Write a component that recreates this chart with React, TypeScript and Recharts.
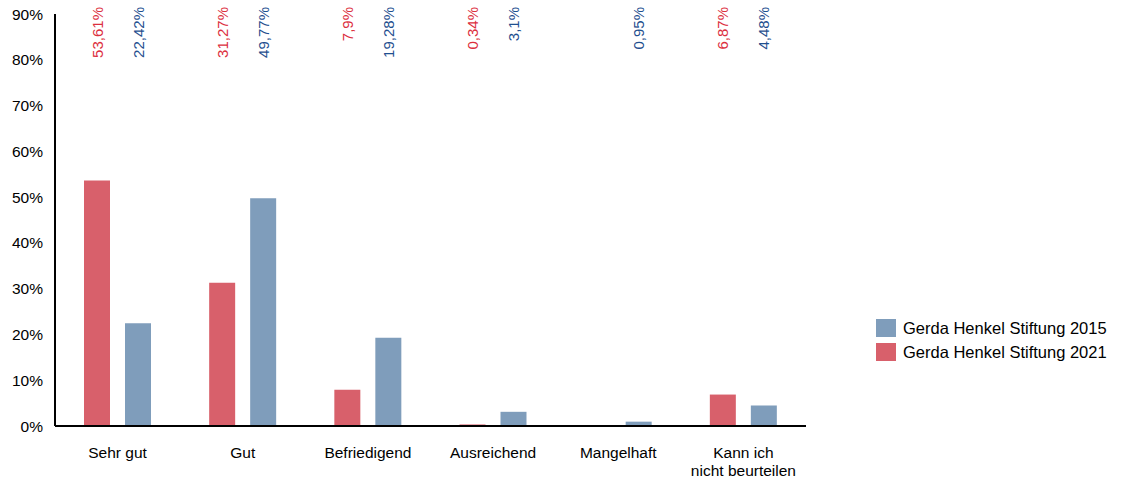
import React from "react";
import { BarChart, Bar, XAxis, YAxis, Legend, LabelList } from "recharts";

const categories = ["Sehr gut", "Gut", "Befriedigend", "Ausreichend", "Mangelhaft", "Kann ich\nnicht beurteilen"];
const values2021: (number | null)[] = [53.61, 31.27, 7.9, 0.34, null, 6.87];
const values2015: (number | null)[] = [22.42, 49.77, 19.28, 3.1, 0.95, 4.48];
const yTicks = [0, 10, 20, 30, 40, 50, 60, 70, 80, 90];

const data = categories.map((c, i) => ({ name: c, v2021: values2021[i], v2015: values2015[i] }));

const RED = "#d8606b";
const BLUE = "#7f9dbb";
const RED_TXT = "#dc2f3e";
const BLUE_TXT = "#1f4f8f";
const FONT = "'Liberation Sans', Arial, sans-serif";

const fmt = (v: number) => String(v).replace(".", ",") + "%";

const makeLabel = (color: string) => (props: any) => {
  const { x, width, value } = props;
  if (value === null || value === undefined) return null;
  const cx = Number(x) + Number(width) / 2;
  const y = 7;
  return (
    <text
      x={cx}
      y={y}
      transform={`rotate(-90, ${cx}, ${y})`}
      textAnchor="end"
      dominantBaseline="central"
      fill={color}
      fontSize={15}
      fontFamily={FONT}
    >
      {fmt(Number(value))}
    </text>
  );
};

const XTick = (props: any) => {
  const { x, y, payload } = props;
  const lines = String(payload.value).split("\n");
  return (
    <g>
      {lines.map((l, i) => (
        <text key={i} x={x} y={y + 24 + i * 18} textAnchor="middle" fill="#000" fontSize={15.5} fontFamily={FONT}>
          {l}
        </text>
      ))}
    </g>
  );
};

const LegendContent = () => {
  const items = [
    { label: "Gerda Henkel Stiftung 2015", color: BLUE },
    { label: "Gerda Henkel Stiftung 2021", color: RED },
  ];
  return (
    <div style={{ fontFamily: FONT, fontSize: 16.5, color: "#000" }}>
      {items.map((it) => (
        <div key={it.label} style={{ display: "flex", alignItems: "center", height: 24 }}>
          <div style={{ width: 20, height: 18, background: it.color, marginRight: 7 }} />
          <span style={{ whiteSpace: "nowrap" }}>{it.label}</span>
        </div>
      ))}
    </div>
  );
};

export default function App() {
  return (
    <div style={{ position: "absolute", left: 0, top: 0 }}>
      <BarChart
        width={1130}
        height={483}
        data={data}
        margin={{ top: 14, right: 324, bottom: 0, left: 0 }}
        barSize={26}
        barGap={15}
      >
        <XAxis
          dataKey="name"
          axisLine={{ stroke: "#000", strokeWidth: 2 }}
          tickLine={false}
          tick={<XTick />}
          interval={0}
          height={57}
        />
        <YAxis
          domain={[0, 90]}
          ticks={yTicks}
          interval={0}
          width={55}
          axisLine={{ stroke: "#000", strokeWidth: 2 }}
          tickLine={false}
          tickMargin={6}
          tickFormatter={(v: number) => `${v}%`}
          tick={{ fill: "#000", fontSize: 15.5, fontFamily: FONT }}
        />
        <Legend
          layout="horizontal"
          align="center"
          verticalAlign="middle"
          content={<LegendContent />}
          wrapperStyle={{ left: 876, top: 316, width: "auto", height: "auto" }}
        />
        <Bar dataKey="v2021" fill={RED} isAnimationActive={false}>
          <LabelList dataKey="v2021" content={makeLabel(RED_TXT)} />
        </Bar>
        <Bar dataKey="v2015" fill={BLUE} isAnimationActive={false}>
          <LabelList dataKey="v2015" content={makeLabel(BLUE_TXT)} />
        </Bar>
      </BarChart>
    </div>
  );
}
